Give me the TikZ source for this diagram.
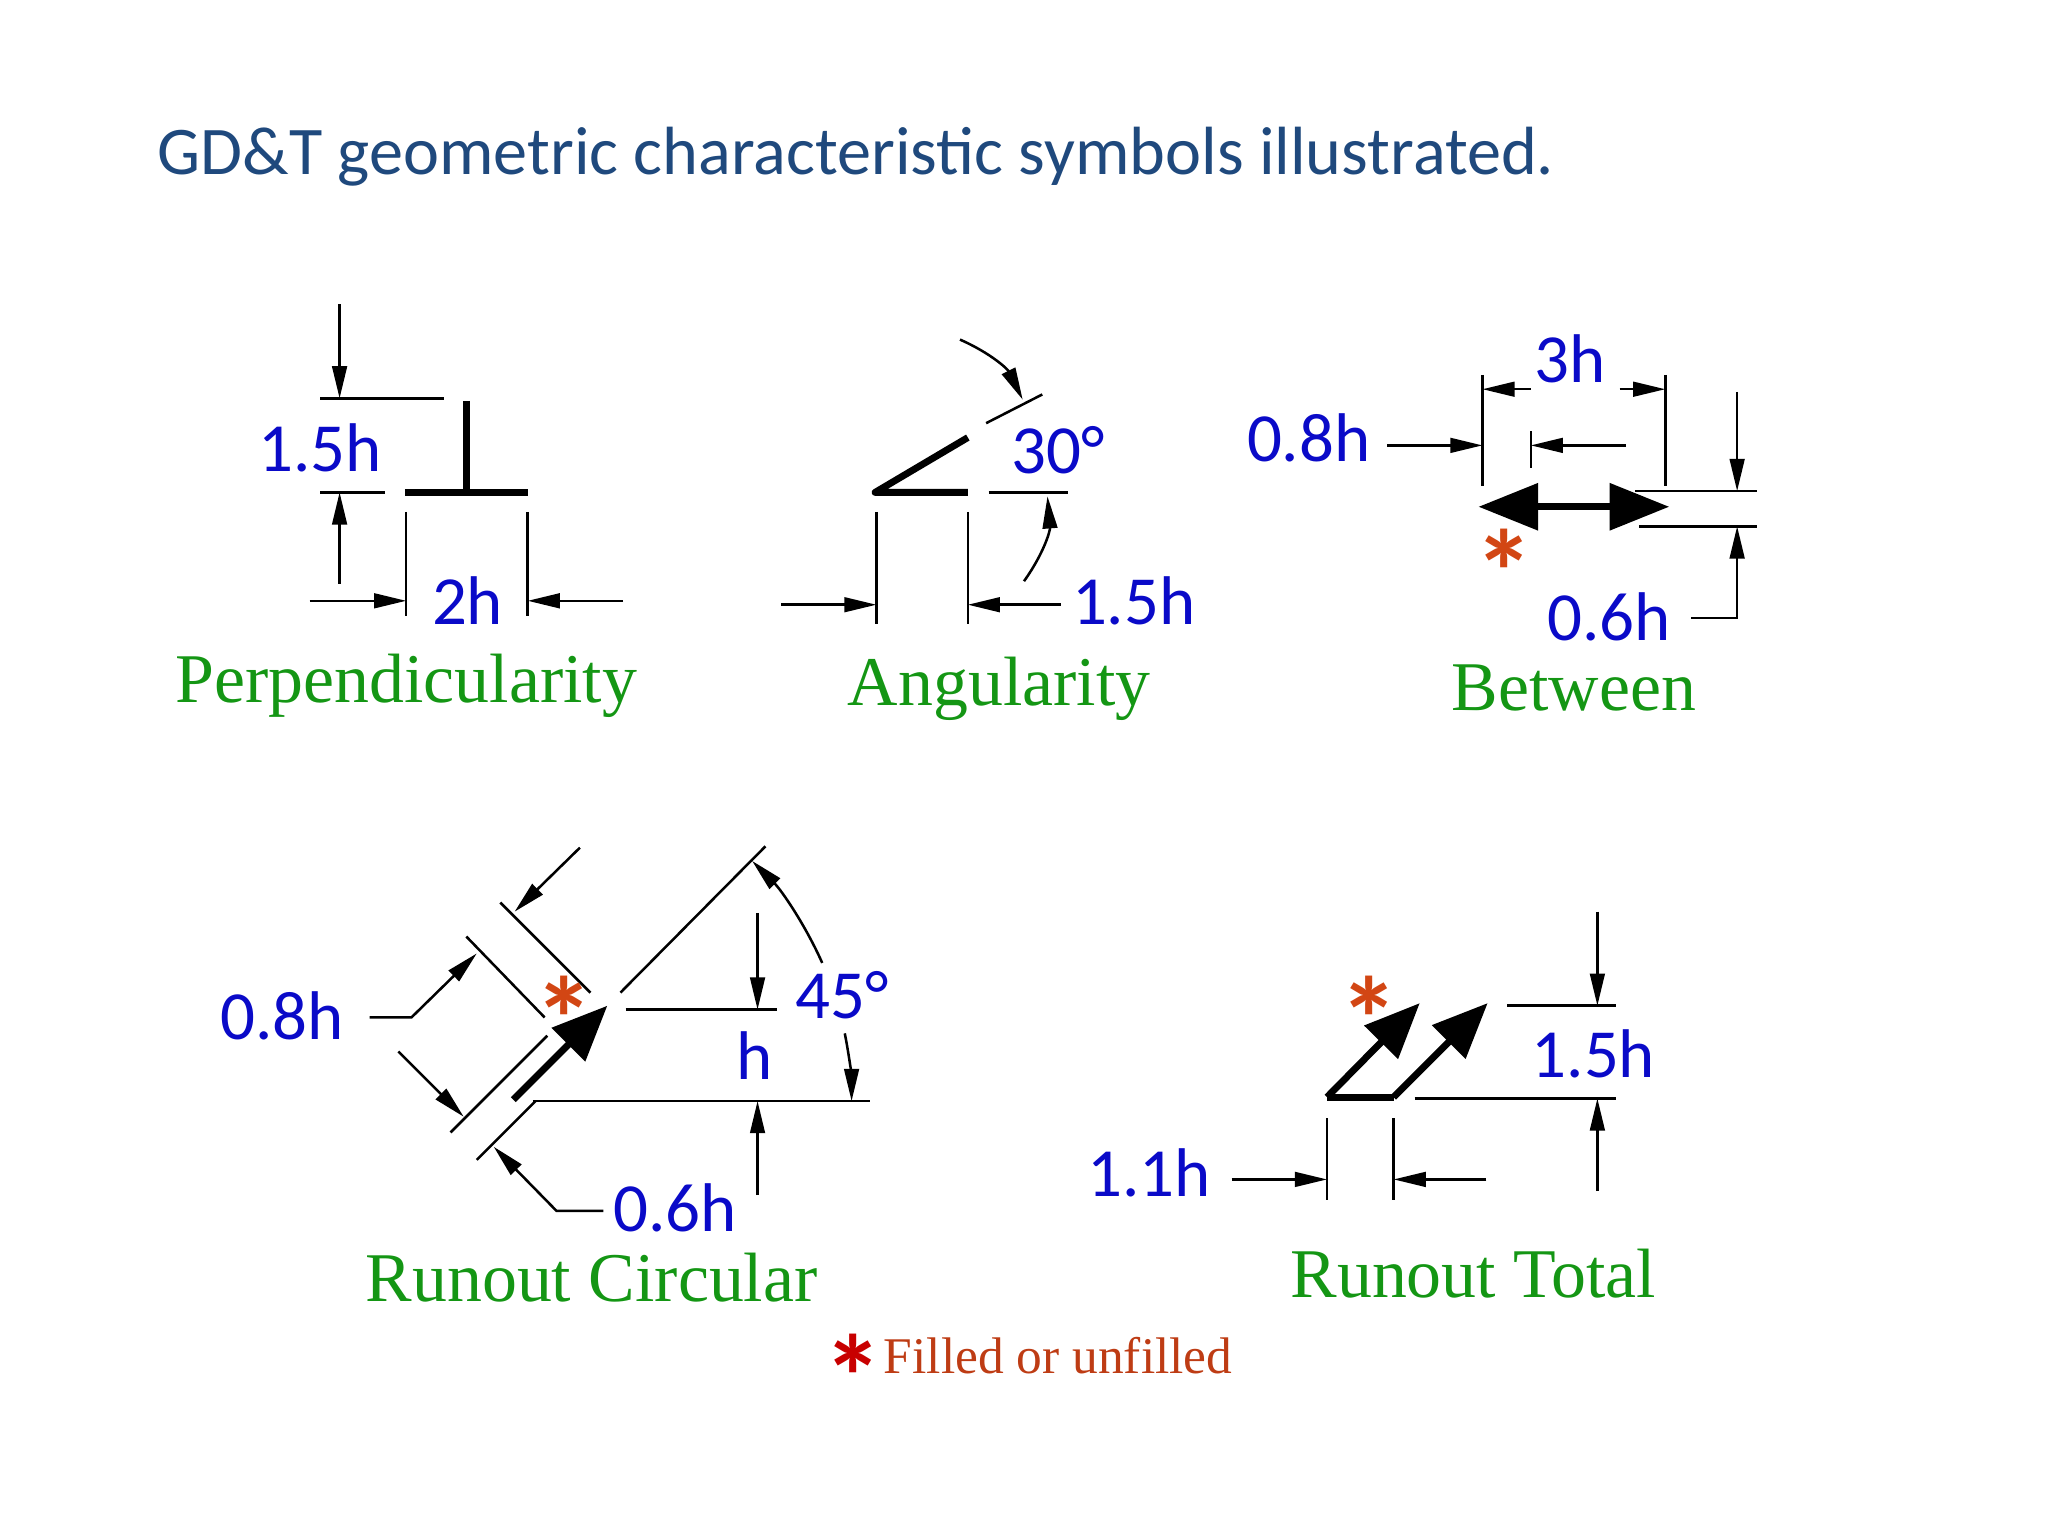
\documentclass[tikz,border=0pt]{standalone}
\usepackage{fontspec}
\setmainfont{Liberation Serif}
\newfontfamily\calib{Carlito}
\usetikzlibrary{arrows.meta}
\definecolor{ttl}{RGB}{31,73,125}
\definecolor{dimblue}{RGB}{10,10,200}
\definecolor{grn}{RGB}{20,150,20}
\definecolor{ast}{RGB}{210,70,20}
\definecolor{astred}{RGB}{200,0,0}
\definecolor{fou}{RGB}{190,60,20}
\tikzset{
  thin line/.style={line width=0.55pt},
  dimarr/.style={line width=0.55pt,-{Triangle[length=7pt,width=3.2pt]}},
  sym/.style={line width=1.5pt,line join=round},
  symarr/.style={line width=1.5pt,-{Triangle[length=12pt,width=10pt]}},
  lbl/.style={font=\calib\fontsize{15}{15}\selectfont,text=dimblue,inner sep=0pt},
  symname/.style={font=\fontsize{15.2}{15.2}\selectfont,text=grn,inner sep=0pt},
  star/.style={font=\calib\bfseries\fontsize{26}{26}\selectfont,text=ast,inner sep=0pt}
}
\begin{document}
\begin{tikzpicture}[x=0.01cm,y=-0.01cm]
\useasboundingbox (0,0) rectangle (1568,1176);
\node[font=\calib\fontsize{14.85}{14.85}\selectfont,text=ttl,anchor=west,inner sep=0pt] (title) at (120,120) {GD\&T geometric characteristic symbols illustrated.};

% Perpendicularity
\draw[sym] (357,307) -- (357,377);
\draw[sym] (310,377) -- (404,377);
\draw[thin line] (245,305) -- (340,305);
\draw[thin line] (245,377) -- (295,377);
\draw[dimarr] (260,233) -- (260,305);
\draw[dimarr] (260,447) -- (260,377);
\draw[thin line] (311,392) -- (311,472);
\draw[thin line] (404,392) -- (404,472);
\draw[dimarr] (237,460) -- (311,460);
\draw[dimarr] (477,460) -- (404,460);
\node[lbl] (p1) at (245,343) {1.5h};
\node[lbl] (p2) at (358,460) {2h};
\node[symname] (pn) at (311,525) {Perpendicularity};

% Angularity
\draw[sym] (741,335) -- (670,377) -- (741,377);
\draw[thin line] (671,392) -- (671,478);
\draw[thin line] (741,392) -- (741,478);
\draw[dimarr] (598,463) -- (671,463);
\draw[dimarr] (812,463) -- (741,463);
\draw[thin line] (755,324) -- (798,302);
\draw[thin line] (757,377) -- (818,377);
\draw[dimarr] (735,260) to[bend left=20] (783,306);
\draw[dimarr] (784,445) to[bend right=20] (802,380);
\node[lbl] (a1) at (868,460) {1.5h};
\node[lbl] (a2) at (810,345) {30°};
\node[symname] (an) at (765,527) {Angularity};

% Between
\draw[line width=1.5pt,{Triangle[length=13pt,width=10pt]}-{Triangle[length=13pt,width=10pt]}] (1132,388) -- (1278,388);
\draw[thin line] (1135,287) -- (1135,372);
\draw[thin line] (1275,287) -- (1275,372);
\draw[thin line] (1172,330) -- (1172,358);
\draw[dimarr] (1172,298) -- (1135,298);
\draw[dimarr] (1240,298) -- (1275,298);
\draw[dimarr] (1062,341) -- (1135,341);
\draw[dimarr] (1245,341) -- (1172,341);
\draw[thin line] (1252,376) -- (1345,376);
\draw[thin line] (1255,403) -- (1345,403);
\draw[dimarr] (1330,300) -- (1330,376);
\draw[dimarr] (1295,473) -- (1330,473) -- (1330,403);
\node[lbl] (b1) at (1202,275) {3h};
\node[lbl] (b2) at (1002,335) {0.8h};
\node[lbl] (b3) at (1232,472) {0.6h};
\node[star] (bs) at (1152,438) {*};
\node[symname] (bn) at (1205,527) {Between};

% Runout Circular
\draw[thin line] (383,691) -- (452,760);
\draw[thin line] (357,717) -- (417,779);
\draw[dimarr] (444,649) -- (394,698);
\draw[dimarr] (283,779) -- (315,779) -- (365,730);
\draw[dimarr] (305,805) -- (355,855);
\draw[thin line] (345,867) -- (419,793);
\draw[thin line] (365,888) -- (410,843);
\draw[symarr] (393,842) -- (465,770);
\draw[thin line] (475,760) -- (586,648);
\draw[thin line] (479,773) -- (595,773);
\draw[thin line] (408,843) -- (666,843);
\draw[dimarr] (580,699) -- (580,773);
\draw[dimarr] (580,915) -- (580,843);
\draw[dimarr] (392,843) ++(-24:260) arc[start angle=-24,end angle=-45,radius=260];
\draw[dimarr] (392,843) ++(-11.5:260) arc[start angle=-11.5,end angle=0,radius=260];
\draw[dimarr] (462,927) -- (426,927) -- (378,878);
\node[lbl] (c1) at (645,762) {45°};
\node[lbl] (c2) at (578,808) {h};
\node[lbl] (c3) at (517,925) {0.6h};
\node[lbl] (c4) at (216,778) {0.8h};
\node[star] (cs) at (432,780) {*};
\node[symname] (cn) at (453,978) {Runout Circular};

% Runout Total
\draw[sym] (1016,840) -- (1067,840);
\draw[symarr] (1016,840) -- (1087,768);
\draw[symarr] (1067,840) -- (1139,768);
\draw[thin line] (1154,770) -- (1237,770);
\draw[thin line] (1083,841) -- (1237,841);
\draw[dimarr] (1223,698) -- (1223,770);
\draw[dimarr] (1223,912) -- (1223,841);
\draw[thin line] (1016,856) -- (1016,919);
\draw[thin line] (1067,856) -- (1067,919);
\draw[dimarr] (943,903) -- (1016,903);
\draw[dimarr] (1138,903) -- (1067,903);
\node[lbl] (t1) at (1220,807) {1.5h};
\node[lbl] (t2) at (880,898) {1.1h};
\node[star] (ts) at (1048,780) {*};
\node[symname] (tn) at (1128,975) {Runout Total};

% footnote
\node[font=\calib\bfseries\fontsize{26}{26}\selectfont,text=astred,inner sep=0pt] (fs) at (653,1054) {*};
\node[font=\fontsize{11.2}{11.2}\selectfont,text=fou,anchor=west,inner sep=0pt] (ft) at (676,1038) {Filled or unfilled};
\end{tikzpicture}
\end{document}
